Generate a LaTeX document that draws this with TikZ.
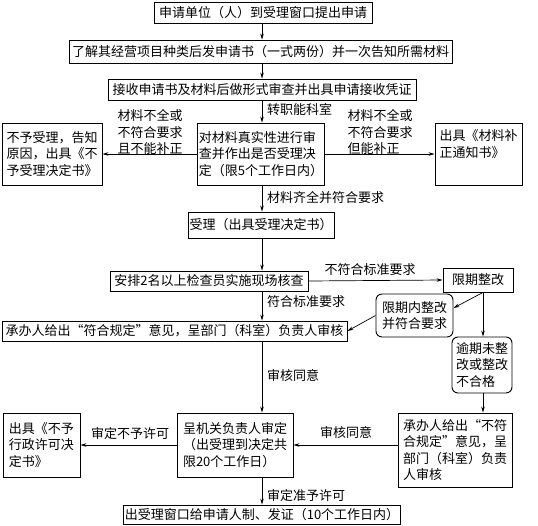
\documentclass[tikz,border=0pt]{standalone}
\usepackage{fontspec}
\newfontfamily\cjk{Noto Sans CJK SC}
\usetikzlibrary{arrows.meta,calc}
\begin{document}
\begin{tikzpicture}[x=1pt,y=-1pt,
  every node/.style={font=\cjk\fontsize{13}{16.5}\selectfont, inner sep=0pt},
  box/.style={draw, line width=0.9pt, align=left, inner sep=1.5pt},
  rbox/.style={box, rounded corners=6pt},
  lbl/.style={align=left},
  arr/.style={line width=0.7pt, -{Stealth[length=6pt,width=3.5pt]}}]
\useasboundingbox (0,0) rectangle (538,525);
\coordinate (col) at (262,0);
\coordinate (rcol) at (483,0);
% nodes
\node[box, minimum width=218, minimum height=21] (n1) at (263,12.5) {申请单位（人）到受理窗口提出申请};
\node[box, minimum width=383, minimum height=23] (n2) at (260.5,51.5) {了解其经营项目种类后发申请书（一式两份）并一次告知所需材料};
\node[box, minimum width=308, minimum height=21] (n3) at (262,89.5) {接收申请书及材料后做形式审查并出具申请接收凭证};
\node[box, minimum width=124, minimum height=62] (n4) at (261,154) {对材料真实性进行审\\查并作出是否受理决\\定（限5个工作日内）};
\node[box, minimum width=100, minimum height=62] (n5) at (52,154) {不予受理，告知\\原因，出具《不\\予受理决定书》};
\node[box, minimum width=87, minimum height=62] (n6) at (478.5,154) {出具《材料补\\正通知书》\\ \strut};
\node[box, minimum width=146, minimum height=26] (n7) at (261,225) {受理（出具受理决定书）};
\node[box, minimum width=198, minimum height=20] (n8) at (209,281) {安排2名以上检查员实施现场核查};
\node[box, minimum width=70, minimum height=24] (n9) at (478,280) {限期整改};
\node[rbox, minimum width=77, minimum height=43] (n10) at (414.5,315.5) {限期内整改\\并符合要求};
\node[box, minimum width=345, minimum height=20] (n11) at (174.5,331) {承办人给出“符合规定”意见，呈部门（科室）负责人审核};
\node[rbox, minimum width=60, minimum height=56] (n12) at (482,365) {逾期未整\\改或整改\\不合格};
\node[box, minimum width=116, minimum height=64] (n13) at (235,445) {呈机关负责人审定\\（出受理到决定共\\限20个工作日）};
\node[box, minimum width=77, minimum height=64] (n14) at (41.5,445) {出具《不予\\行政许可决\\定书》};
\node[box, minimum width=114, minimum height=74] (n15) at (455,450) {承办人给出“不符\\合规定”意见，呈\\部门（科室）负责\\人审核};
\node[box, minimum width=276, minimum height=19] (n16) at (262,514.5) {出受理窗口给申请人制、发证（10个工作日内）};
% labels
\node[lbl, anchor=west] (l1) at (267,109) {转职能科室};
\node[lbl] (l2) at (150,132) {材料不全或\\不符合要求\\且不能补正};
\node[lbl] (l3) at (380,132) {材料不全或\\不符合要求\\但能补正};
\node[lbl, anchor=west] (l4) at (267,198) {材料齐全并符合要求};
\node[lbl] (l5) at (370,270) {不符合标准要求};
\node[lbl, anchor=west] (l6) at (267,302) {符合标准要求};
\node[lbl, anchor=west] (l7) at (267,376) {审核同意};
\node[lbl] (l8) at (130,434) {审定不予许可};
\node[lbl] (l9) at (346,433) {审核同意};
\node[lbl, anchor=west] (l10) at (267,496) {审定准予许可};
% connectors
\draw[arr] (n1.south -| col) -- (n2.north -| col);
\draw[arr] (n2.south -| col) -- (n3.north -| col);
\draw[arr] (n3.south -| col) -- (n4.north -| col);
\draw[arr] (n4.west) -- (n5.east);
\draw[arr] (n4.east) -- (n6.west);
\draw[arr] (n4.south -| col) -- (n7.north -| col);
\draw[arr] (n7.south -| col) -- (n8.north -| col);
\draw[arr] (n8.east) -- (n9.west);
\draw[arr] (n8.south -| col) -- (n11.north -| col);
\draw[arr] (n9.south -| rcol) -- ($(n10.north east)!0.33!(n10.south east)$);
\draw[arr] (n10.west) -- (n11.east);
\draw[arr] (n9.south -| rcol) -- (n12.north -| rcol);
\draw[arr] (n12.south -| rcol) -- (n15.north -| rcol);
\draw[arr] (n11.south -| col) -- (n13.north -| col);
\draw[arr] (n13.east -| n15.west) -- (n13.east);
\draw[arr] (n13.west) -- (n14.east);
\draw[arr] (n13.south -| col) -- (n16.north -| col);
\end{tikzpicture}
\end{document}
